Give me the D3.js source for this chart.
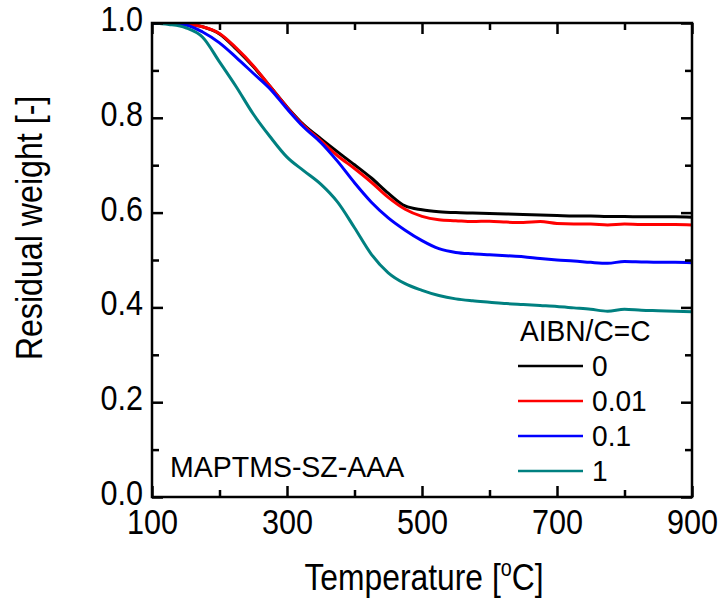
<!DOCTYPE html>
<html>
<head>
<meta charset="utf-8">
<script src="https://cdn.jsdelivr.net/npm/d3@7"></script>
<style>
  body { margin: 0; background: #fff; }
  svg { display: block; font-family: "Liberation Sans", Arial, sans-serif; }
</style>
</head>
<body>
<div id="chart"></div>
<script>
//Datos
const temps = [100, 125, 150, 175, 200, 225, 250, 275, 300, 325, 350, 375, 400, 425, 450, 475, 500,
    525, 550, 575, 600, 625, 650, 675, 700, 725, 750, 775, 800, 825, 850, 875, 900];

const serie_0 = [1.0, 1.0, 0.998, 0.992, 0.977, 0.945, 0.908, 0.866, 0.823, 0.785, 0.756, 0.728, 0.701, 0.673, 0.641, 0.614, 0.606,
    0.602, 0.600, 0.599, 0.598, 0.597, 0.596, 0.595, 0.594, 0.593, 0.593, 0.592, 0.592, 0.591, 0.591, 0.591, 0.590];

const serie_001 = [1.0, 1.0, 0.998, 0.992, 0.978, 0.947, 0.910, 0.866, 0.822, 0.783, 0.752, 0.720, 0.693, 0.664, 0.632, 0.607, 0.592,
    0.585, 0.583, 0.581, 0.582, 0.580, 0.579, 0.581, 0.577, 0.576, 0.576, 0.574, 0.576, 0.575, 0.575, 0.575, 0.574];

const serie_01 = [1.0, 0.999, 0.996, 0.981, 0.958, 0.927, 0.894, 0.861, 0.819, 0.780, 0.748, 0.708, 0.663, 0.622, 0.589, 0.563, 0.541,
    0.524, 0.516, 0.513, 0.511, 0.509, 0.507, 0.503, 0.500, 0.498, 0.495, 0.493, 0.497, 0.496, 0.495, 0.495, 0.494];

const serie_1 = [1.0, 0.997, 0.990, 0.970, 0.918, 0.865, 0.808, 0.760, 0.717, 0.688, 0.660, 0.622, 0.568, 0.512, 0.473, 0.450, 0.436,
    0.425, 0.418, 0.414, 0.411, 0.408, 0.406, 0.404, 0.402, 0.399, 0.396, 0.392, 0.396, 0.394, 0.393, 0.392, 0.391];

const series = [serie_0, serie_001, serie_01, serie_1];
const leyenda = ['0', '0.01', '0.1', '1'];
const colores = ['#000000', '#ff0000', '#0000ff', '#008080'];

const xMajor = [100, 300, 500, 700, 900];
const xMinor = [200, 400, 600, 800];
const yMajor = [0.0, 0.2, 0.4, 0.6, 0.8, 1.0];
const yMinor = [0.1, 0.3, 0.5, 0.7, 0.9];

//Compresión horizontal del texto (la fuente del original es más estrecha)
const SQUEEZE = 0.85;

let margin = {top: 23, right: 30, bottom: 112, left: 152},
    width = 722 - margin.left - margin.right,
    height = 609 - margin.top - margin.bottom;

let svg = d3.select('#chart')
    .append('svg')
        .attr('width', 722)
        .attr('height', 609)
    .append('g')
        .attr('transform', 'translate(' + margin.left + ',' + margin.top + ')');

let x = d3.scaleLinear().domain([100, 900]).range([0, width]);
let y = d3.scaleLinear().domain([0, 1]).range([height, 0]);

//Curvas
svg.append('clipPath').attr('id', 'clip')
    .append('rect').attr('width', width).attr('height', height);

let line = d3.line()
    .x(function(d, i) { return x(temps[i]); })
    .y(function(d) { return y(d); })
    .curve(d3.curveMonotoneX);

svg.append('g')
    .attr('clip-path', 'url(#clip)')
    .selectAll('path')
    .data(series)
    .enter()
    .append('path')
    .attr('fill', 'none')
    .attr('stroke', function(d, i) { return colores[i]; })
    .attr('stroke-width', 3)
    .attr('stroke-linejoin', 'round')
    .attr('d', line);

//Ejes
function styleAxis(g) {
    g.select('.domain').remove();
    g.selectAll('.tick line').attr('stroke', '#000').attr('stroke-width', 2.5);
    g.selectAll('text').attr('fill', '#000').style('font-size', '36px').style('font-family', '"Liberation Sans", Arial, sans-serif');
}

svg.append('g').attr('transform', 'translate(0,' + height + ')')
    .call(d3.axisBottom(x).tickValues(xMajor).tickSize(-11).tickPadding(11).tickFormat(d3.format('d')))
    .call(styleAxis)
    .call(function(g) {
        g.selectAll('text').attr('dy', null).attr('y', null)
            .attr('transform', 'translate(0,37) scale(' + SQUEEZE + ',1)');
    });
svg.append('g').attr('transform', 'translate(0,' + height + ')')
    .call(d3.axisBottom(x).tickValues(xMinor).tickSize(-7).tickFormat(''))
    .call(styleAxis);
svg.append('g')
    .call(d3.axisTop(x).tickValues(xMajor).tickSize(-11).tickFormat(''))
    .call(styleAxis);
svg.append('g')
    .call(d3.axisTop(x).tickValues(xMinor).tickSize(-7).tickFormat(''))
    .call(styleAxis);

svg.append('g')
    .call(d3.axisLeft(y).tickValues(yMajor).tickSize(-11).tickFormat(d3.format('.1f')))
    .call(styleAxis)
    .call(function(g) {
        g.selectAll('text').attr('dy', null).attr('x', null)
            .attr('transform', 'translate(-9,7.5) scale(' + SQUEEZE + ',1)');
    });
svg.append('g')
    .call(d3.axisLeft(y).tickValues(yMinor).tickSize(-7).tickFormat(''))
    .call(styleAxis);
svg.append('g').attr('transform', 'translate(' + width + ',0)')
    .call(d3.axisRight(y).tickValues(yMajor).tickSize(-11).tickFormat(''))
    .call(styleAxis);
svg.append('g').attr('transform', 'translate(' + width + ',0)')
    .call(d3.axisRight(y).tickValues(yMinor).tickSize(-7).tickFormat(''))
    .call(styleAxis);

//Marco
svg.append('rect')
    .attr('width', width).attr('height', height)
    .attr('fill', 'none').attr('stroke', '#000').attr('stroke-width', 2.5);

//Títulos de ejes
svg.append('text')
    .attr('transform', 'translate(' + (424 - margin.left) + ',' + (590 - margin.top) + ') scale(0.86,1)')
    .attr('text-anchor', 'middle')
    .style('font-size', '37px')
    .html('Temperature [<tspan dy="-14" font-size="23">o</tspan><tspan dy="14">C]</tspan>');

svg.append('text')
    .attr('transform', 'translate(' + (42 - margin.left) + ',' + (228 - margin.top) + ') rotate(-90) scale(0.87,1)')
    .attr('text-anchor', 'middle')
    .style('font-size', '37px')
    .text('Residual weight [-]');

//Anotación
svg.append('text')
    .attr('transform', 'translate(' + (170 - margin.left) + ',' + (477 - margin.top) + ') scale(0.95,1)')
    .style('font-size', '30px')
    .text('MAPTMS-SZ-AAA');

//Leyenda
let legend = svg.append('g').attr('transform', 'translate(' + (518 - margin.left) + ',0)');
legend.append('text')
    .attr('transform', 'translate(2,' + (341 - margin.top) + ') scale(0.97,1)')
    .style('font-size', '29px')
    .text('AIBN/C=C');

let items = legend.selectAll('.item')
    .data(leyenda)
    .enter()
    .append('g')
    .attr('class', 'item')
    .attr('transform', function(d, i) { return 'translate(0,' + (366 - margin.top + i * 35) + ')'; });

items.append('line')
    .attr('x1', 0).attr('x2', 65)
    .attr('stroke', function(d, i) { return colores[i]; })
    .attr('stroke-width', 2.5);

items.append('text')
    .attr('transform', 'translate(74,10) scale(0.97,1)')
    .style('font-size', '29px')
    .text(function(d) { return d; });
</script>
</body>
</html>
